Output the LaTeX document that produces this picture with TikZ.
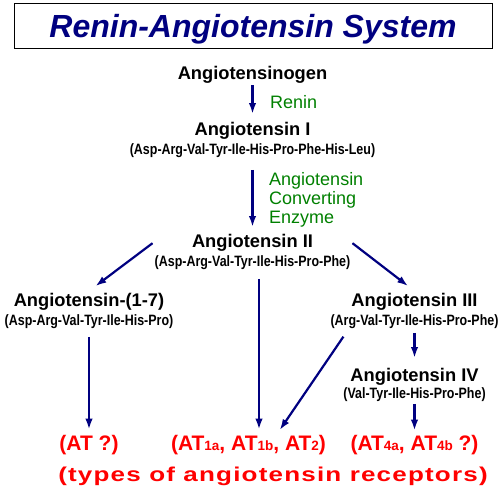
\documentclass[tikz,border=0pt]{standalone}
\usepackage{fontspec}
\setmainfont{Liberation Sans}
\newfontfamily\chainfont[FakeStretch=0.83]{Liberation Sans}
\newfontfamily\widefont[FakeStretch=1.3,LetterSpace=6]{Liberation Sans}
\usepackage{tikz}
\usepackage{xcolor}
\usetikzlibrary{calc, positioning, arrows.meta}
\definecolor{ink}{HTML}{000080}
\definecolor{enz}{HTML}{008000}
\definecolor{recep}{HTML}{FF0000}
\newcommand{\chain}[1]{{\chainfont\fontsize{15}{15}\selectfont #1}}
\newcommand{\rsub}[1]{{\fontsize{13.5}{13.5}\selectfont #1}}

\begin{document}
\begin{tikzpicture}[x=1pt, y=-1pt, >={Latex[length=11pt,width=7.5pt]},
    compound/.style={align=center, inner sep=2pt, anchor=north,
                     font=\bfseries\fontsize{18.3}{19}\selectfont},
    enzyme/.style={text=enz, inner sep=0pt, font=\fontsize{18}{19}\selectfont},
    receptor/.style={text=recep, inner sep=2pt, anchor=base,
                     font=\bfseries\fontsize{21}{21}\selectfont},
    flow/.style={->, draw=ink, line width=2.2pt}]
    \useasboundingbox (0,0) rectangle (500,496);

    \node[draw, line width=1pt, inner sep=0pt, minimum width=478pt, minimum height=45pt,
          text height=23pt, text depth=0pt, text=ink,
          font=\bfseries\itshape\fontsize{32}{32}\selectfont] (title) at (253,25.5)
      {Renin-Angiotensin System};

    % main cascade
    \node[inner sep=2pt, anchor=base, font=\bfseries\fontsize{18.3}{19}\selectfont] (agen) at (252.5,79)
      {Angiotensinogen};
    \node[compound] (ang1) at (252.5,120)
      {Angiotensin I\\\chain{(Asp-Arg-Val-Tyr-Ile-His-Pro-Phe-His-Leu)}};
    \node[compound] (ang2) at (252.5,232)
      {Angiotensin II\\\chain{(Asp-Arg-Val-Tyr-Ile-His-Pro-Phe)}};
    \node[compound] (ang17) at (89,291)
      {Angiotensin-(1-7)\\\chain{(Asp-Arg-Val-Tyr-Ile-His-Pro)}};
    \node[compound] (ang3) at (414.5,291)
      {Angiotensin III\\\chain{(Arg-Val-Tyr-Ile-His-Pro-Phe)}};
    \node[compound, font=\bfseries\fontsize{18.3}{17}\selectfont] (ang4) at (414.5,366)
      {Angiotensin IV\\\chain{(Val-Tyr-Ile-His-Pro-Phe)}};

    % enzymes
    \node[enzyme, anchor=base west] (renin) at (270,108) {Renin};
    \node[enzyme, align=left, anchor=north west] (ace) at (269,172)
      {Angiotensin\\Converting\\Enzyme};

    % receptors
    \node[receptor] (rc1) at (89,450) {(AT ?)};
    \node[receptor] (rc2) at (248.5,450)
      {(AT\rsub{1a}, AT\rsub{1b}, AT\rsub{2})};
    \node[receptor] (rc3) at (414.5,450) {(AT\rsub{4a}, AT\rsub{4b} ?)};
    \node[text=recep, inner sep=0pt, anchor=base,
          font=\widefont\bfseries\fontsize{20}{20}\selectfont] (types) at (273,481)
      {(types of angiotensin receptors)};

    \draw[flow, shorten >=6pt] (agen) -- (ang1);
    \draw[flow, shorten <=10pt, shorten >=5pt] (ang1) -- (ang2);
    \draw[flow, shorten >=8pt] (ang2.175) -- (ang17.north);
    \draw[flow, shorten >=8pt] (ang2.5) -- (ang3.north);
    \draw[flow, shorten <=7pt, shorten >=3pt] ([xshift=6.5pt]ang2.south) -- ([xshift=10.5pt]rc2.north);
    \draw[flow, shorten <=6pt, shorten >=3pt] (ang17) -- (rc1);
    \draw[flow, shorten <=7pt, shorten >=3pt] ([xshift=19pt]ang3.south west) -- ([xshift=29.5pt]rc2.north);
    \draw[flow, shorten <=2pt, shorten >=8pt] (ang3) -- (ang4);
    \draw[flow, shorten >=2pt] (ang4) -- (rc3);
  \end{tikzpicture}
\end{document}
